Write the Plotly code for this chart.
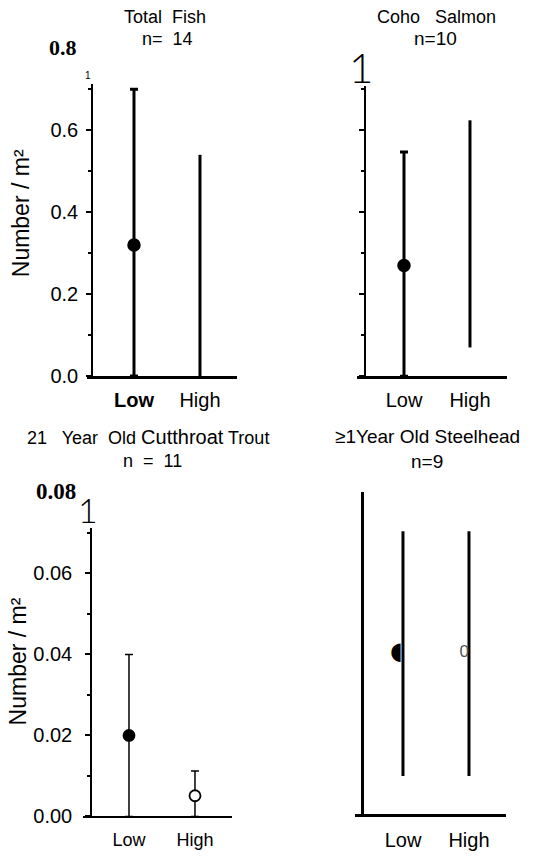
import plotly.graph_objects as go

W, H = 536, 859

# ---------------- data ----------------
categories = ["Low", "High"]

# Total Fish, n = 14
fish_mean = [0.32, None]
fish_upper = [0.70, 0.54]
fish_lower = [0.0, 0.0]

# Coho Salmon, n = 10
coho_mean = [0.27, None]
coho_upper = [0.547, 0.624]
coho_lower = [0.0, 0.07]

# >=1 Year Old Cutthroat Trout, n = 11
cut_mean = [0.020, 0.0051]
cut_upper = [0.040, 0.0112]
cut_lower = [0.0, 0.0]

# >=1 Year Old Steelhead, n = 9
steel_mean = [0.040, 0.040]
steel_upper = [0.070, 0.070]
steel_lower = [0.0095, 0.0095]

yticks_top = [0.0, 0.2, 0.4, 0.6]
yticks_top_text = ["0.0", "0.2", "0.4", "0.6"]
yticks_bottom = [0.00, 0.02, 0.04, 0.06]
yticks_bottom_text = ["0.00", "0.02", "0.04", "0.06"]

FONT = "Liberation Sans, Arial, sans-serif"
SERIF = "Liberation Serif, Times New Roman, serif"


def px_x(p):
    return p / W


def px_y(p):
    return 1 - p / H


fig = go.Figure()


def range_segments(cats, means, lo, hi, only_missing=True):
    xs, ys = [], []
    for c, m, a, b in zip(cats, means, lo, hi):
        if only_missing and m is not None:
            continue
        xs += [c, c, None]
        ys += [a, b, None]
    return xs, ys


def add_marker_err(cats, means, lo, hi, xa, ya, thick, capw, size, fills, lw=1.5):
    idx = [i for i, m in enumerate(means) if m is not None]
    fig.add_trace(go.Scatter(
        x=[cats[i] for i in idx], y=[means[i] for i in idx],
        xaxis=xa, yaxis=ya, mode="markers",
        marker=dict(size=size, color=[fills[i] for i in idx],
                    line=dict(color="black", width=lw), symbol="circle"),
        error_y=dict(type="data", symmetric=False,
                     array=[hi[i] - means[i] for i in idx],
                     arrayminus=[means[i] - lo[i] for i in idx],
                     thickness=thick, width=capw, color="black"),
        showlegend=False, cliponaxis=False, hoverinfo="skip"))


# Panel 1: Total Fish
xs, ys = range_segments(categories, fish_mean, fish_lower, fish_upper)
fig.add_trace(go.Scatter(x=xs, y=ys, xaxis="x", yaxis="y", mode="lines",
                         line=dict(color="black", width=3), showlegend=False,
                         cliponaxis=False, hoverinfo="skip"))
add_marker_err(categories, fish_mean, fish_lower, fish_upper, "x", "y",
               3, 4, 12, ["black", "black"])

# Panel 2: Coho Salmon
xs, ys = range_segments(categories, coho_mean, coho_lower, coho_upper)
fig.add_trace(go.Scatter(x=xs, y=ys, xaxis="x2", yaxis="y2", mode="lines",
                         line=dict(color="black", width=3), showlegend=False,
                         cliponaxis=False, hoverinfo="skip"))
add_marker_err(categories, coho_mean, coho_lower, coho_upper, "x2", "y2",
               3, 4, 12, ["black", "black"])

# Panel 3: Cutthroat Trout
add_marker_err(categories, cut_mean, cut_lower, cut_upper, "x3", "y3",
               1.5, 4, 11, ["black", "white"], lw=1.8)

# Panel 4: Steelhead
xs, ys = range_segments(categories, steel_mean, steel_lower, steel_upper,
                        only_missing=False)
fig.add_trace(go.Scatter(x=xs, y=ys, xaxis="x4", yaxis="y4", mode="lines",
                         line=dict(color="black", width=3), showlegend=False,
                         cliponaxis=False, hoverinfo="skip"))
fig.add_trace(go.Scatter(x=categories, y=steel_mean, xaxis="x4", yaxis="y4",
                         mode="text", text=["\u25D6", "0"],
                         textposition="middle left",
                         textfont=dict(size=[24, 17], color=["black", "#555555"],
                                       family=["DejaVu Sans", FONT]),
                         showlegend=False, cliponaxis=False, hoverinfo="skip"))

# ---------------- axes ----------------
panels = {
    # k: (x_left, x_right, ypos, y_bottom, y_top, yrange_top, xrange, ylw, xlw)
    1: (87, 237, 92, 381, 85, 0.713, [-0.712, 1.561], 1.5, 2.5),
    2: (357, 507, 365, 381, 87, 0.708, [-0.712, 1.561], 1.5, 3),
    3: (83, 232, 91, 827, 535, 0.0712, [-0.697, 1.561], 1.5, 2),
    4: (355, 506, 362, 825, 498, 0.0798, [-0.727, 1.561], 3, 3),
}

xtick_texts = {
    1: ["<b>" + categories[0] + "</b>", categories[1]],
    2: categories,
    3: categories,
    4: categories,
}

for k, (xl, xr, yp, yb, yt, ytop, xr_range, ylw, xlw) in panels.items():
    sfx = "" if k == 1 else str(k)
    xkey, ykey = "xaxis" + sfx, "yaxis" + sfx
    fig.layout[xkey] = dict(
        domain=[px_x(xl), px_x(xr)], anchor="y" + sfx, type="category",
        categoryorder="array", categoryarray=categories,
        range=xr_range, showgrid=False, zeroline=False, showline=True,
        linecolor="black", linewidth=xlw, ticks="", tickvals=categories,
        ticktext=xtick_texts[k], ticklabelstandoff=4 if k in (1, 2) else 6,
        tickfont=dict(family=FONT, size=20 if k != 3 else 18, color="black"),
        fixedrange=True)
    ydict = dict(
        domain=[px_y(yb), px_y(yt)], anchor="free", position=px_x(yp),
        range=[0, ytop], showgrid=False, zeroline=False, showline=True,
        linecolor="black", linewidth=ylw, fixedrange=True)
    if k in (1, 2):
        ydict.update(ticks="outside", ticklen=5, tickwidth=1.5, tickcolor="black",
                     tickvals=yticks_top, ticktext=yticks_top_text,
                     minor=dict(ticks="outside", ticklen=3, tickwidth=1.5,
                                dtick=0.1, tick0=0, tickcolor="black"),
                     showticklabels=(k == 1), ticklabelstandoff=4,
                     tickfont=dict(family=FONT, size=20, color="black"))
    elif k == 3:
        ydict.update(ticks="outside", ticklen=5, tickwidth=1.5, tickcolor="black",
                     tickvals=yticks_bottom, ticktext=yticks_bottom_text,
                     minor=dict(ticks="outside", ticklen=3, tickwidth=1.5,
                                dtick=0.01, tick0=0, tickcolor="black"),
                     ticklabelstandoff=9,
                     tickfont=dict(family=FONT, size=20, color="black"))
    else:
        ydict.update(ticks="", showticklabels=False)
    fig.layout[ykey] = ydict

# ---------------- text ----------------
ann = []


def add_text(txt, x, y, size, family=FONT, xanchor="center", angle=0,
             color="black", weight=None):
    f = dict(family=family, size=size, color=color)
    if weight is not None:
        f["weight"] = weight
    ann.append(dict(text=txt, x=px_x(x), y=px_y(y), xref="paper", yref="paper",
                    xanchor=xanchor, yanchor="middle", showarrow=False,
                    textangle=angle, font=f))


add_text("Total  Fish", 165, 17, 18)
add_text("n=  14", 167, 39, 18)
add_text("Coho   Salmon", 436, 17, 18)
add_text("n=10", 435, 39, 19)
add_text("21   Year  Old <span style='font-size:20px'>Cutthroat</span> Trout",
         25, 443, 18, xanchor="left")
add_text("n  =  11", 152, 467, 18)
add_text("\u22651Year Old Steelhead", 427, 442, 19)
add_text("n=9", 427, 467, 19)

add_text("<b>0.8</b>", 63, 48, 22, family=SERIF)
add_text("<b>0.08</b>", 56, 498, 23, family=SERIF)
add_text("1", 88, 76, 10)
add_text("1", 361, 68, 42, family="Lato, Liberation Sans", weight=300)
add_text("1", 88, 516, 34, family="Lato, Liberation Sans", weight=300)

add_text("Number / m\u00B2", 21, 216, 23, angle=-90)
add_text("Number / m\u00B2", 18, 670, 23, angle=-90)

fig.update_layout(
    width=W, height=H, margin=dict(l=0, r=0, t=0, b=0),
    paper_bgcolor="white", plot_bgcolor="white", showlegend=False,
    annotations=ann, font=dict(family=FONT, color="black"))

fig.write_html("out.html", config={"displayModeBar": False},
               post_script="document.body.style.margin='0';"
                           "document.body.style.padding='0';"
                           "document.body.style.overflow='hidden';")
